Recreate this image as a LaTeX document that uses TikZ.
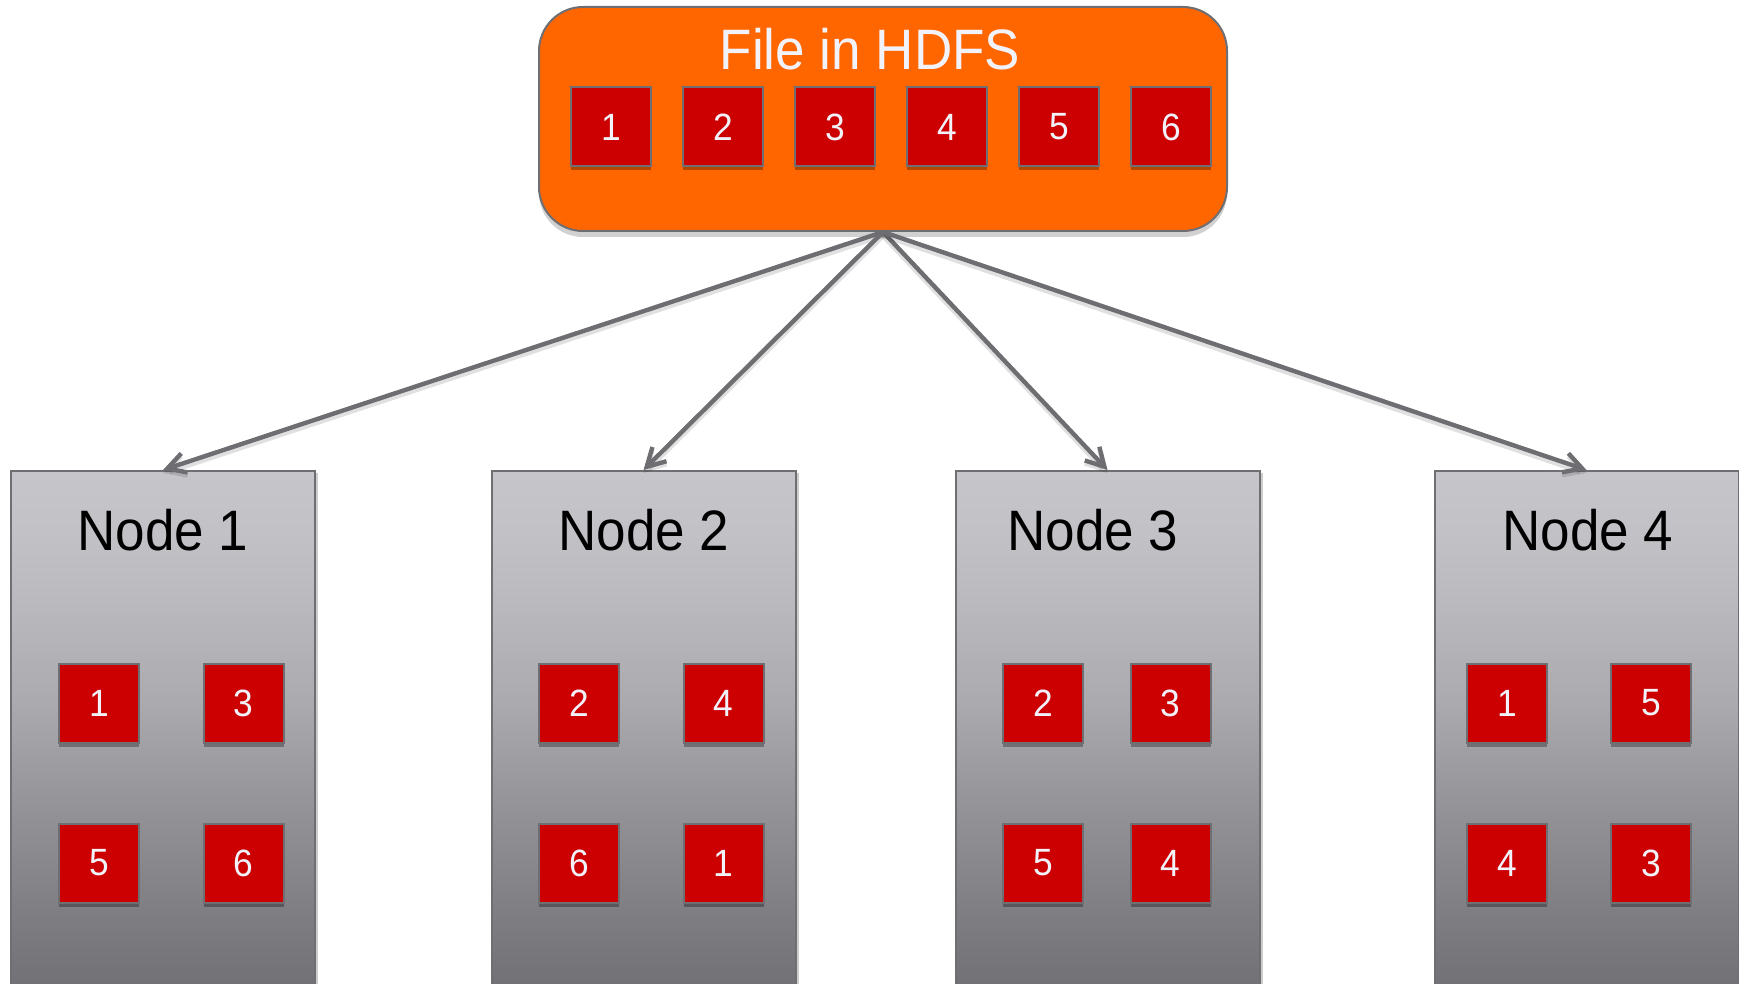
\documentclass[tikz,border=0pt]{standalone}
\usepackage{fontspec}
\setmainfont{Liberation Sans}
\newfontfamily\labelfont[FakeStretch=0.93]{Liberation Sans}
\usetikzlibrary{arrows.meta,shadows}

\definecolor{hdfsorange}{HTML}{FF6600}
\definecolor{blockred}{HTML}{CC0000}
\definecolor{edgegray}{HTML}{6E6E73}
\definecolor{arrowgray}{HTML}{6D6D72}
\definecolor{titlewhite}{HTML}{F2F2FA}

% vertical fill of the server boxes, light at the top, dark at the bottom
% (TikZ fits the band 25bp--75bp of the shading to the box)
\pgfdeclareverticalshading{servergray}{100bp}{%
  rgb(0bp)=(0.435,0.435,0.455);
  rgb(25bp)=(0.435,0.435,0.455);
  rgb(33.5bp)=(0.498,0.498,0.518);
  rgb(43.5bp)=(0.584,0.584,0.600);
  rgb(53bp)=(0.667,0.667,0.686);
  rgb(62.5bp)=(0.725,0.725,0.745);
  rgb(69bp)=(0.757,0.757,0.776);
  rgb(75bp)=(0.773,0.773,0.792);
  rgb(100bp)=(0.773,0.773,0.792)}

\begin{document}
\begin{tikzpicture}[x=0.5pt,y=-0.5pt,
  softshadow/.style={drop shadow={shadow xshift=0pt, shadow yshift=-2pt,
      opacity=0.3, fill=black}},
  filebox/.style={draw=edgegray, line width=1pt, fill=hdfsorange,
      rounded corners=22pt, minimum width=344pt, minimum height=112pt,
      inner sep=0pt,
      drop shadow={shadow xshift=0pt, shadow yshift=-3pt, opacity=0.18, fill=black}},
  filetitle/.style={text=titlewhite, inner sep=0pt,
      font=\labelfont\fontsize{28.5}{28.5}\selectfont},
  block/.style={draw=edgegray, line width=1pt, fill=blockred,
      minimum width=40pt, minimum height=39.5pt, inner sep=0pt,
      text=titlewhite, font=\labelfont\fontsize{19}{19}\selectfont, softshadow},
  server/.style={draw=edgegray, line width=1pt, shading=servergray,
      minimum width=152pt, minimum height=262pt, inner sep=0pt, anchor=north,
      drop shadow={shadow xshift=1.5pt, shadow yshift=-1pt, opacity=0.2, fill=black}},
  servertitle/.style={text=black, inner sep=0pt, anchor=base,
      font=\labelfont\fontsize{28.5}{28.5}\selectfont},
  conn/.style={draw=arrowgray, line width=2.2pt,
      -{Straight Barb[length=9pt,width=10pt,line width=2.2pt]},
      preaction={draw=black, opacity=0.12, line width=3pt,
        transform canvas={yshift=-1.5pt}}}
]
\useasboundingbox (0,0) rectangle (1739,984);
\clip (0,0) rectangle (1739,984);

% the file and its six blocks
\node[filebox] (file) at (883,119) {};
\node[filetitle, anchor=base] (ftitle) at (870,70) {File in HDFS};
\foreach \i/\x in {1/611,2/723,3/835,4/947,5/1059,6/1171}
  \node[block] (f\i) at (\x,127) {\i};

% the four data nodes
\node[server] (n1) at (163,470) {};
\node[server] (n2) at (643.5,470) {};
\node[server] (n3) at (1107.5,470) {};
\node[server] (n4) at (1586.5,470) {};

\node[servertitle] (t1) at (163,550) {Node 1};
\node[servertitle] (t2) at (644,550) {Node 2};
\node[servertitle] (t3) at (1093,550) {Node 3};
\node[servertitle] (t4) at (1588,550) {Node 4};

% replicated blocks held by each node
\node[block] (n1a) at (99,703) {1};
\node[block] (n1b) at (243.5,703) {3};
\node[block] (n1c) at (99,863) {5};
\node[block] (n1d) at (243.5,863) {6};

\node[block] (n2a) at (579,703) {2};
\node[block] (n2b) at (723.5,703) {4};
\node[block] (n2c) at (579,863) {6};
\node[block] (n2d) at (723.5,863) {1};

\node[block] (n3a) at (1043,703) {2};
\node[block] (n3b) at (1170.5,703) {3};
\node[block] (n3c) at (1043,863) {5};
\node[block] (n3d) at (1170.5,863) {4};

\node[block] (n4a) at (1507,703) {1};
\node[block] (n4b) at (1651,703) {5};
\node[block] (n4c) at (1507,863) {4};
\node[block] (n4d) at (1651,863) {3};

% distribution of the blocks
\draw[conn] (file.south) -- (n1.north);
\draw[conn] (file.south) -- (n2.north);
\draw[conn] (file.south) -- (n3.north);
\draw[conn] (file.south) -- (n4.north);
\end{tikzpicture}
\end{document}
